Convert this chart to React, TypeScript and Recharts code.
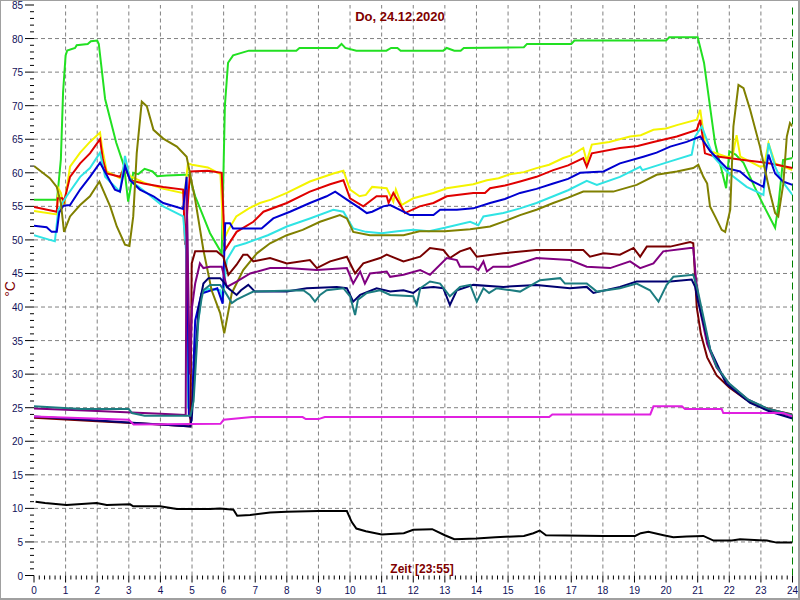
import React from 'react';
import { LineChart, Line, XAxis, YAxis, ReferenceLine } from 'recharts';

// ---------------------------------------------------------------------------
// Data: [hour, °C] pairs (Do, 24.12.2020)
// ---------------------------------------------------------------------------

type Pt = [number, number];

const xMajorTicks = [0, 1, 2, 3, 4, 5, 6, 7, 8, 9, 10, 11, 12, 13, 14, 15, 16, 17, 18, 19, 20, 21, 22, 23, 24];
const yMajorTicks = [0, 5, 10, 15, 20, 25, 30, 35, 40, 45, 50, 55, 60, 65, 70, 75, 80, 85];

const greenPts: Pt[] = [
  [0, 56], [0.73, 56], [0.85, 62], [0.92, 72], [1.0, 77.5], [1.05, 78.2], [1.3, 78.6], [1.35, 79], [1.7, 79.2],
  [1.8, 79.6], [2.0, 79.7], [2.05, 79.2], [2.25, 71], [2.6, 64.5], [2.85, 61], [2.98, 55.7], [3.14, 60],
  [3.3, 59.8], [3.5, 60.6], [3.75, 60.2], [3.9, 59.5], [4.2, 59.6], [4.8, 59.7], [4.9, 59.7], [5.1, 56.5],
  [5.57, 51], [5.94, 48], [6.04, 70], [6.14, 76.4], [6.3, 77.5], [6.8, 78.2], [8.3, 78.2], [8.4, 78.6],
  [9.6, 78.6], [9.73, 79.2], [9.85, 78.6], [10.2, 78.2], [11.15, 78.2], [11.3, 78.6], [11.5, 78.6],
  [11.6, 78.2], [12.95, 78.2], [13.06, 78.6], [13.3, 78.2], [13.5, 78.2], [13.6, 78.6], [15.5, 78.7],
  [15.6, 79.2], [17.0, 79.2], [17.1, 79.7], [20.0, 79.7], [20.1, 80.2], [21.0, 80.2], [21.2, 76.4],
  [21.55, 64.4], [21.7, 61.5], [21.9, 57.7], [22.0, 63.2], [22.2, 62.7], [22.45, 61.5], [22.8, 57.9],
  [23.1, 55], [23.45, 51.8], [23.55, 55], [23.7, 61.9], [24, 62.2],
];

const yellowPts: Pt[] = [
  [0, 54.3], [0.72, 53.8], [0.77, 57.7], [0.85, 57], [0.95, 55], [1.14, 60.9], [1.46, 63], [1.77, 64.6],
  [2.09, 66], [2.15, 63.9], [2.3, 60.2], [2.72, 59.2], [2.88, 61.5], [3.04, 59.5], [3.5, 58.5], [4.1, 57.6],
  [4.7, 57], [4.78, 57.5], [4.87, 61.4], [5.0, 61.2], [5.5, 60.8], [5.9, 59.8], [6.0, 50], [6.15, 51.5],
  [6.4, 53.5], [6.8, 54.7], [7.15, 55.5], [7.5, 56], [8.0, 57], [8.73, 58.7], [9.47, 59.9], [9.79, 60.3],
  [10.0, 57.5], [10.3, 56.5], [10.5, 56.7], [10.7, 57.9], [11.16, 57.7], [11.37, 55.7], [11.45, 57.5],
  [11.63, 55.2], [12.0, 56.2], [12.64, 57], [13.06, 57.7], [13.9, 58.3], [14.33, 58.9], [14.7, 59.2],
  [15.06, 59.8], [15.5, 60.1], [15.9, 60.7], [16.3, 61.2], [16.75, 62.2], [17.0, 62.6], [17.38, 63.7],
  [17.49, 61.7], [17.65, 64.2], [18.2, 64.6], [18.86, 65.4], [19.2, 65.6], [19.6, 66.4], [20.0, 66.6],
  [20.34, 67.1], [20.97, 67.9], [21.08, 69.4], [21.23, 64.4], [21.4, 63.2], [21.9, 62.4], [22.1, 62.4],
  [22.23, 65.6], [22.35, 62.4], [22.97, 60.9], [23.1, 61], [23.24, 64.4], [23.45, 61.4], [24, 60.4],
];

const redPts: Pt[] = [
  [0, 54.9], [0.72, 54.2], [0.75, 56.2], [0.9, 56.2], [0.95, 55.7], [1.14, 59.4], [1.46, 61.4], [1.77, 62.9],
  [2.09, 65], [2.18, 61.9], [2.3, 59.9], [2.72, 59.4], [2.88, 60.9], [3.04, 58.9], [3.46, 58.4], [4.09, 57.9],
  [4.72, 57.5], [4.78, 49.3], [4.86, 55], [4.94, 60.2], [5.5, 60.3], [5.94, 60.0], [6.04, 48.5], [6.41, 51.2],
  [6.94, 52.7], [7.26, 54.2], [8.0, 55.5], [8.73, 57.2], [9.37, 58.3], [9.79, 58.9], [10.0, 56.2],
  [10.42, 55], [10.84, 56.5], [11.16, 56.5], [11.22, 55.5], [11.37, 57], [11.74, 54], [12.2, 55],
  [12.64, 55.5], [13.06, 56.5], [13.9, 57], [14.27, 57], [14.43, 57.7], [14.9, 58.1], [15.38, 58.7],
  [15.9, 59.4], [16.43, 60.4], [16.9, 61.1], [17.38, 62.2], [17.49, 60.9], [17.65, 62.9], [18.54, 63.7],
  [19.1, 64], [19.6, 64.6], [20.34, 65.4], [20.97, 66.4], [21.08, 67.9], [21.23, 62.9], [21.5, 62.5],
  [22.45, 61.9], [23.3, 61.4], [24, 60.7],
];

const bluePts: Pt[] = [
  [0, 52.1], [0.4, 51.9], [0.56, 51.2], [0.72, 51.2], [0.8, 54.1], [0.93, 55.1], [1.14, 55.2], [1.46, 57.5],
  [1.77, 59.4], [2.09, 61.5], [2.41, 58.7], [2.56, 57.5], [2.72, 57.2], [2.88, 61], [3.04, 58.9], [3.35, 57.5],
  [3.78, 56.5], [4.09, 55.5], [4.72, 54.6], [4.83, 59.4], [4.9, 24], [4.98, 23], [5.1, 38], [5.3, 42],
  [5.8, 42.8], [5.97, 40.5], [6.05, 52.5], [6.2, 52.5], [6.3, 51.7], [7.2, 51.7], [7.57, 53.2], [8.1, 54.2],
  [8.73, 55.5], [9.26, 56.5], [9.53, 57.2], [9.9, 56], [10.32, 54.7], [10.53, 54], [10.7, 54.2], [11.05, 55],
  [11.27, 55.2], [11.69, 54.2], [11.9, 53.7], [12.64, 53.7], [12.85, 54.5], [13.38, 54.5], [13.9, 54.7],
  [14.43, 55.5], [14.9, 56.1], [15.38, 57], [15.9, 57.6], [16.43, 58.4], [16.9, 59.1], [17.28, 60],
  [18.02, 60.2], [18.54, 61.4], [19.28, 62.4], [19.7, 63], [20.13, 63.9], [20.65, 64.6], [21.08, 65.4],
  [21.4, 63.2], [21.92, 60.7], [22.34, 60.2], [22.66, 58.9], [23.08, 57.9], [23.24, 62.7], [23.45, 59.9],
  [23.7, 58.7], [24, 58.2],
];

const cyanPts: Pt[] = [
  [0, 50.7], [0.5, 50], [0.66, 49.8], [0.77, 54.5], [1.03, 56.5], [1.46, 59.4], [1.77, 60.7], [2.09, 63],
  [2.25, 59.4], [2.72, 57.2], [2.88, 62.5], [3.04, 58.9], [3.57, 57], [4.09, 55], [4.72, 53.5], [4.81, 48.5],
  [4.88, 25], [5.0, 24.5], [5.1, 34], [5.3, 42], [5.5, 42.7], [5.9, 42.5], [5.97, 41], [6.1, 47], [6.35, 49],
  [6.7, 49.5], [7.4, 50.7], [8.0, 52], [8.73, 53.2], [9.47, 54.5], [9.79, 54.2], [10.1, 51.7], [10.5, 51.2],
  [11.0, 51], [11.5, 51.3], [12.0, 51.5], [12.5, 51.3], [13.0, 51.8], [13.8, 52.7], [14.06, 52.2],
  [14.22, 53.5], [14.85, 54], [15.38, 54.7], [15.9, 55.5], [16.43, 56.5], [16.9, 57.4], [17.49, 58.8],
  [17.81, 58.2], [18.54, 59.4], [19.18, 60.9], [19.25, 60.4], [20.13, 61.7], [20.81, 62.7], [20.92, 65.4],
  [21.13, 66.9], [21.29, 64.9], [21.5, 62.4], [21.92, 60.2], [22.55, 57.9], [23.08, 56.7], [23.24, 64.4],
  [23.45, 60.9], [23.65, 58.9], [24, 56.7],
];

const olivePts: Pt[] = [
  [0, 61], [0.5, 59.2], [0.72, 57.9], [0.85, 55.5], [0.95, 51.2], [1.14, 53.5], [1.46, 55.2], [1.77, 56.5],
  [2.07, 58.7], [2.41, 55], [2.62, 52], [2.88, 49.3], [3.02, 49.1], [3.14, 53.5], [3.25, 62.9], [3.41, 70.6],
  [3.57, 69.9], [3.78, 66.4], [4.09, 65.1], [4.52, 63.9], [4.83, 62.4], [5.1, 56], [5.36, 48.5], [5.62, 42.5],
  [5.89, 39.1], [6.02, 36.1], [6.26, 42.1], [6.62, 45.5], [7.05, 48], [7.47, 49.5], [8.0, 50.7], [8.5, 51.5],
  [9.05, 52.7], [9.68, 53.7], [9.9, 53.2], [10.1, 51.2], [10.63, 50.7], [11.69, 50.7], [12.2, 51.3],
  [13.0, 51.3], [13.8, 51.6], [14.43, 52], [14.9, 52.8], [15.38, 53.7], [15.9, 54.5], [16.43, 55.5],
  [16.9, 56.3], [17.38, 57.2], [18.33, 57.2], [19.07, 58.2], [19.7, 59.7], [20.34, 60.2], [20.86, 60.7],
  [21.02, 61.2], [21.18, 59.4], [21.3, 58.4], [21.39, 55], [21.55, 53.5], [21.76, 51.5], [21.87, 51.2],
  [22.03, 54.5], [22.13, 66.9], [22.29, 73.1], [22.45, 72.6], [22.66, 69.4], [22.97, 63.9], [23.29, 57],
  [23.45, 54], [23.55, 53.5], [23.71, 58.4], [23.82, 65.4], [23.92, 67.4], [24, 66.9],
];

const maroonPts: Pt[] = [
  [0, 23.5], [2, 23.0], [4, 22.5], [4.95, 22.2], [4.99, 46.5], [5.1, 48.3], [5.78, 48.3], [5.99, 47.5],
  [6.15, 44.8], [6.41, 46.3], [6.62, 47.8], [6.75, 47.8], [6.94, 46.8], [7.47, 47.3], [8.0, 46.5], [8.73, 47],
  [8.95, 45.8], [9.37, 46.8], [9.9, 47.5], [10.16, 45], [10.42, 46.5], [10.95, 47.3], [11.16, 47.8],
  [11.69, 46.8], [12.22, 47.5], [12.53, 48.8], [12.95, 48.5], [13.16, 47.3], [13.48, 48.3], [13.8, 48.8],
  [14.01, 47.5], [14.85, 48], [15.9, 48.5], [17.38, 48.5], [17.59, 47.5], [18.02, 48], [18.54, 47.8],
  [18.97, 48.8], [19.18, 47.5], [19.39, 49], [20.13, 49], [20.76, 49.7], [20.86, 49.5], [20.97, 40],
  [21.1, 36], [21.3, 32.5], [21.6, 29.8], [22.0, 28], [22.5, 26.3], [23.0, 25.2], [23.5, 24.5], [24, 24],
];

const purplePts: Pt[] = [
  [0, 24.9], [2, 24.5], [4, 24.1], [4.8, 23.9], [4.83, 57.5], [4.88, 44], [4.93, 30], [5.0, 40], [5.1, 43.5],
  [5.25, 46.5], [5.36, 45.8], [5.57, 46], [5.94, 46], [6.1, 43], [6.41, 43.8], [6.84, 45], [7.47, 45.8],
  [8.0, 45.8], [8.95, 45.5], [9.9, 45.8], [10.1, 43.5], [10.32, 45.3], [10.47, 43.5], [10.63, 45],
  [11.16, 45.3], [11.27, 44.5], [11.69, 44.8], [12.22, 45.5], [12.53, 44.8], [13.06, 47.3], [13.38, 47],
  [13.48, 46], [13.9, 46], [14.06, 45.5], [14.22, 46.8], [14.33, 45.3], [14.53, 46], [15.06, 46],
  [15.9, 47.3], [16.96, 47], [17.49, 46], [18.23, 45.8], [18.86, 46.8], [19.18, 45.8], [19.6, 46.5],
  [19.91, 48.3], [20.76, 48.8], [20.86, 48.8], [20.95, 44], [21.1, 39], [21.3, 34.5], [21.6, 31],
  [22.0, 28.5], [22.6, 26.2], [23.2, 24.8], [24, 23.7],
];

const navyPts: Pt[] = [
  [0, 23.7], [1, 23.4], [2, 23.1], [3, 22.8], [4, 22.5], [4.95, 22.2], [5.0, 24], [5.2, 39.6], [5.36, 43.5],
  [5.52, 44.3], [5.89, 44.3], [5.99, 43.8], [6.15, 42.8], [6.41, 41.8], [6.55, 42.5], [6.78, 43.3],
  [6.99, 42.3], [8.0, 42.3], [8.63, 42.8], [9.58, 43], [9.9, 42.8], [10.1, 40.8], [10.32, 41.8],
  [10.84, 42.8], [11.27, 42.3], [11.69, 42.5], [12, 42.1], [12.2, 42.8], [12.64, 43], [12.95, 42.8],
  [13.16, 40.3], [13.38, 42.5], [13.9, 43.3], [14.85, 43], [15.9, 43.3], [16.96, 42.8], [17.49, 43],
  [17.7, 42.1], [18.54, 43], [19.07, 43.8], [20.13, 43.8], [20.81, 44.1], [20.92, 43], [21.0, 41],
  [21.4, 33.6], [21.9, 28.6], [22.66, 25.7], [23.3, 24.4], [24, 23.4],
];

const tealPts: Pt[] = [
  [0, 25.2], [1.5, 24.8], [3.0, 24.8], [3.1, 24.2], [3.5, 23.8], [4.95, 23.8], [5.05, 26], [5.2, 38],
  [5.3, 41.2], [5.36, 42.5], [5.57, 43.3], [5.89, 43.3], [6.04, 42.3], [6.26, 40.6], [6.41, 41.1],
  [6.62, 41.6], [6.94, 42.3], [8.52, 42.5], [8.73, 41.8], [8.89, 40.8], [9.05, 41.8], [9.26, 42.5],
  [9.79, 42.8], [10.0, 41.6], [10.16, 38.8], [10.25, 41.1], [10.53, 42.1], [10.95, 42.5], [11.27, 41.8],
  [12.0, 41.6], [12.11, 40.3], [12.22, 42.8], [12.53, 43.8], [12.85, 43.5], [13.16, 41.6], [13.48, 43],
  [13.8, 43.3], [14.01, 40.8], [14.22, 42.8], [14.4, 42.1], [14.64, 42.8], [15.38, 42.3], [16.01, 44],
  [16.65, 44.3], [16.8, 43.5], [17.49, 43.5], [17.81, 42.3], [18.54, 42.8], [19.07, 43.5], [19.49, 42.5],
  [19.76, 40.8], [20.02, 43.3], [20.23, 44.5], [20.86, 44.8], [21.0, 42.5], [21.2, 38.1], [21.4, 33.6],
  [21.6, 31.1], [22.0, 28.6], [22.6, 26.2], [23.2, 24.9], [24, 23.9],
];

const magentaPts: Pt[] = [
  [0, 23.7], [3.0, 23.2], [3.15, 22.5], [5.9, 22.6], [6.0, 23.2], [6.9, 23.6], [8.5, 23.6], [8.6, 23.3],
  [9.0, 23.3], [9.2, 23.6], [16.3, 23.6], [16.4, 24.0], [19.5, 24.0], [19.6, 25.2], [20.5, 25.2],
  [20.6, 24.8], [21.76, 24.8], [21.81, 24.2], [23.7, 24.2], [24, 23.7],
];

const blackPts: Pt[] = [
  [0.05, 11], [0.35, 10.8], [1.03, 10.5], [1.98, 10.8], [2.3, 10.5], [3.04, 10.6], [3.14, 10.3], [3.99, 10.3],
  [4.52, 9.9], [5.57, 9.9], [5.89, 10], [6.31, 9.8], [6.43, 8.9], [6.84, 9], [7.47, 9.4], [8, 9.5], [9, 9.6],
  [9.9, 9.6], [10.05, 8], [10.2, 7], [10.5, 6.6], [11, 6.1], [11.7, 6.3], [12, 6.8], [12.6, 6.9], [13, 6],
  [13.3, 5.4], [14, 5.5], [14.6, 5.7], [15.5, 5.9], [15.8, 6.3], [16, 6.7], [16.2, 6], [18.02, 5.9],
  [19.02, 5.9], [19.2, 6.3], [19.44, 6.5], [19.92, 6], [20.23, 5.7], [20.65, 5.8], [21.18, 5.9], [21.5, 5.2],
  [22.08, 5.2], [22.34, 5.4], [23.19, 5.2], [23.5, 4.9], [24, 4.9],
];

const series = [
  { name: 'green', color: '#22e022', pts: greenPts },
  { name: 'yellow', color: '#f4f400', pts: yellowPts },
  { name: 'red', color: '#e00000', pts: redPts },
  { name: 'cyan', color: '#30e4e4', pts: cyanPts },
  { name: 'blue', color: '#0000d0', pts: bluePts },
  { name: 'olive', color: '#808000', pts: olivePts },
  { name: 'maroon', color: '#780000', pts: maroonPts },
  { name: 'purple', color: '#800080', pts: purplePts },
  { name: 'navy', color: '#000070', pts: navyPts },
  { name: 'teal', color: '#1c7c80', pts: tealPts },
  { name: 'magenta', color: '#e020e0', pts: magentaPts },
  { name: 'black', color: '#000000', pts: blackPts },
];

const rows = (pts: Pt[]) => pts.map(([h, v]) => ({ h, v }));

// minor ticks: every 10 minutes / every 1 °C
const xTicks: number[] = [];
xMajorTicks.forEach((h) => {
  for (let k = 0; k < 6; k++) if (h + k / 6 <= 24) xTicks.push(h + k / 6);
});
const yTicks: number[] = [];
for (let v = 0; v <= 85; v++) yTicks.push(v);

const TICK_COLOR = '#10105a';
const LABEL_RED = '#800000';
const FONT = 'Arial, "Liberation Sans", sans-serif';

// eslint-disable-next-line @typescript-eslint/no-explicit-any
const YTick = ({ x, y, payload }: any) => {
  const v = payload.value as number;
  const major = yMajorTicks.includes(v);
  return (
    <g>
      <line x1={x - (major ? 9 : 4)} x2={x} y1={y} y2={y} stroke="#000" strokeWidth={1} />
      {major && (
        <text x={x - 11} y={y + 4} textAnchor="end" fontSize={10} fontFamily={FONT} fill={TICK_COLOR}>
          {v}
        </text>
      )}
    </g>
  );
};

// eslint-disable-next-line @typescript-eslint/no-explicit-any
const XTick = ({ x, y, payload }: any) => {
  const v = payload.value as number;
  const major = Math.abs(v - Math.round(v)) < 1e-6;
  return (
    <g>
      <line x1={x} x2={x} y1={y} y2={y + (major ? 7 : 4)} stroke="#000" strokeWidth={1} />
      {major && (
        <text x={x} y={y + 18} textAnchor="middle" fontSize={10} fontFamily={FONT} fill={TICK_COLOR}>
          {Math.round(v)}
        </text>
      )}
    </g>
  );
};

export default function App() {
  return (
    <div style={{ position: 'fixed', left: 0, top: 0, width: 800, height: 600, background: '#fff' }}>
      <LineChart width={800} height={600} margin={{ top: 5, right: 7.5, left: 0, bottom: 0 }}>
        <XAxis
          dataKey="h"
          type="number"
          domain={[0, 24]}
          ticks={xTicks}
          interval={0}
          height={24.5}
          tickSize={0}
          tickMargin={0}
          axisLine={false}
          tickLine={false}
          tick={<XTick />}
          allowDataOverflow
        />
        <YAxis
          type="number"
          domain={[0, 85]}
          ticks={yTicks}
          interval={0}
          width={34}
          tickSize={0}
          tickMargin={0}
          axisLine={false}
          tickLine={false}
          tick={<YTick />}
          allowDataOverflow
        />

        {yMajorTicks.filter((v) => v > 0 && v < 85).map((v) => (
          <ReferenceLine key={'gy' + v} y={v} stroke="#808080" strokeDasharray="4 3" />
        ))}
        {xMajorTicks.filter((h) => h > 0 && h < 24).map((h) => (
          <ReferenceLine key={'gx' + h} x={h} stroke="#808080" strokeDasharray="4 3" />
        ))}
        <ReferenceLine x={24} stroke="#008000" strokeDasharray="7 4" />

        {series.map((s) => (
          <Line
            key={s.name}
            data={rows(s.pts)}
            dataKey="v"
            type="linear"
            stroke={s.color}
            strokeWidth={2}
            dot={false}
            activeDot={false}
            isAnimationActive={false}
          />
        ))}
      </LineChart>

      <div style={{ position: 'absolute', left: 0, top: 10, width: 800, textAlign: 'center', fontFamily: FONT, fontWeight: 'bold', fontSize: 13, color: LABEL_RED, lineHeight: '14px' }}>
        Do, 24.12.2020
      </div>
      <div style={{ position: 'absolute', left: 376, top: 563, width: 92, textAlign: 'center', fontFamily: FONT, fontWeight: 'bold', fontSize: 12, color: LABEL_RED, lineHeight: '13px' }}>
        Zeit [23:55]
      </div>
      <div style={{ position: 'absolute', left: -5, top: 282, width: 30, textAlign: 'center', fontFamily: FONT, fontSize: 14, color: LABEL_RED, lineHeight: '14px', transform: 'rotate(-90deg)' }}>
        °C
      </div>
      <div style={{ position: 'absolute', left: 0, top: 0, width: 800, height: 600, boxSizing: 'border-box', borderStyle: 'solid', borderColor: '#a0a0a0', borderWidth: '1px 2px 2px 1px', pointerEvents: 'none' }} />
    </div>
  );
}
